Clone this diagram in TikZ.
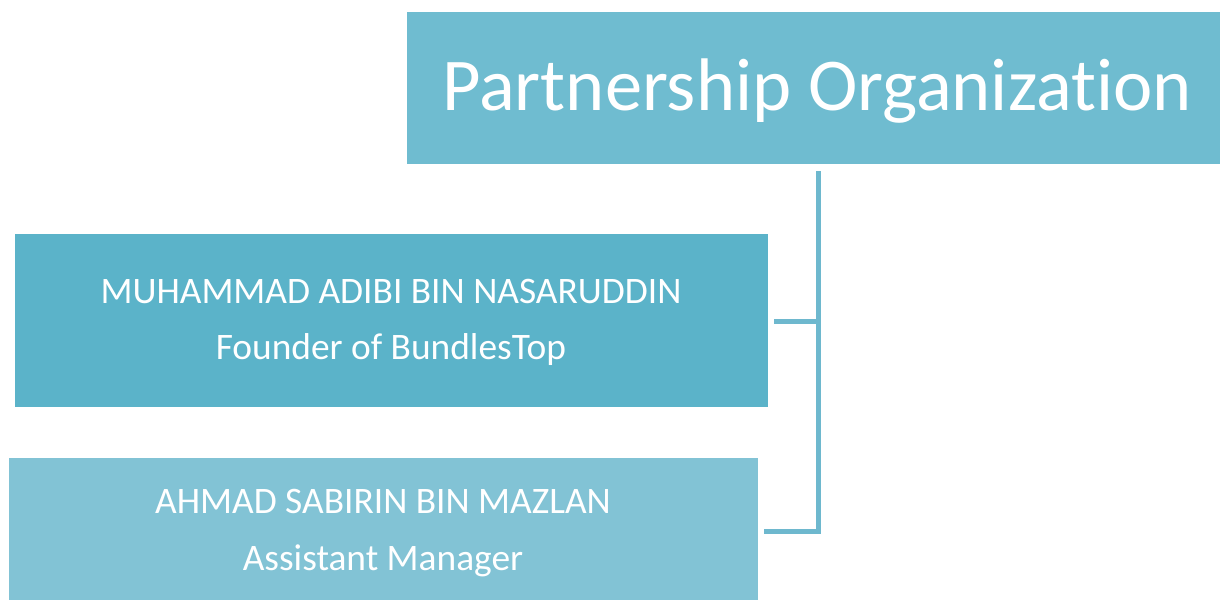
\documentclass[tikz,border=0pt]{standalone}
\usepackage{fontspec}
\setmainfont[Ligatures={NoCommon}]{Carlito}
\definecolor{topc}{HTML}{6FBCD0}
\definecolor{boxa}{HTML}{5BB3C9}
\definecolor{boxb}{HTML}{82C3D5}
\definecolor{linec}{HTML}{6EB8CE}
\tikzset{
  box/.style={draw=none, inner sep=0pt, text=white, align=center},
  conn/.style={draw=linec, line width=5pt},
}
\begin{document}
\begin{tikzpicture}[x=1pt,y=-1pt]
\useasboundingbox (0,0) rectangle (1220,600);
% boxes
\fill[topc] (407,12) rectangle (1220,164);
\fill[boxa] (15,234) rectangle (768,407);
\fill[boxb] (9,458) rectangle (758,600);
\node[box, anchor=south west, minimum width=813pt, minimum height=152pt] (top) at (407,164) {};
\node[box, anchor=south west, minimum width=753pt, minimum height=173pt] (b1) at (15,407) {};
\node[box, anchor=south west, minimum width=749pt, minimum height=142pt] (b2) at (9,600) {};
% texts
\node[box, anchor=base, font=\fontsize{74.5}{88}\selectfont] (t0) at (817,110) {Partnership Organization};
\node[box, anchor=base, font=\fontsize{37.4}{44}\selectfont] (t1a) at (391,303) {MUHAMMAD ADIBI BIN NASARUDDIN};
\node[box, anchor=base, font=\fontsize{37.4}{44}\selectfont] (t1b) at (391,359) {Founder of BundlesTop};
\node[box, anchor=base, font=\fontsize{37.4}{44}\selectfont] (t2a) at (383,513) {AHMAD SABIRIN BIN MAZLAN};
\node[box, anchor=base, font=\fontsize{37.4}{44}\selectfont] (t2b) at (383,570) {Assistant Manager};
% connectors
\coordinate (jt) at (818,171);
\coordinate (j1) at (818,321);
\coordinate (j2) at (818,531);
\draw[conn] ([xshift=6pt]b1.east |- j1) -- (j1);
\draw[conn, line join=miter] ([xshift=6pt]b2.east |- j2) -- (j2) -- (jt);
\end{tikzpicture}
\end{document}
